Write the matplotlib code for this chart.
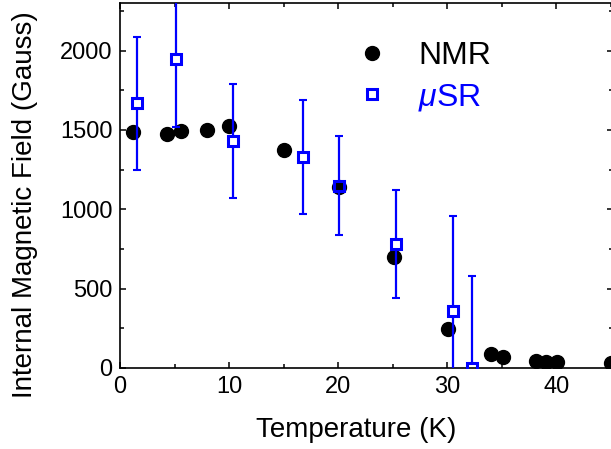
import numpy as np
import matplotlib
matplotlib.use("Agg")
import matplotlib.pyplot as plt
from matplotlib.ticker import MultipleLocator

plt.rcParams['font.family'] = ['Liberation Sans', 'DejaVu Sans']
plt.rcParams['mathtext.fontset'] = 'custom'
plt.rcParams['mathtext.rm'] = 'Liberation Sans'
plt.rcParams['mathtext.it'] = 'Liberation Sans:italic'

# NMR data (K, Gauss)
nmr_T = np.array([1.2, 4.3, 5.6, 8.0, 10.0, 15.0, 20.1, 25.1, 30.1, 34.0, 35.1, 38.1, 39.1, 40.1, 45.0])
nmr_B = np.array([1484, 1474, 1491, 1497, 1522, 1373, 1140, 702, 244, 88, 71, 46, 36, 36, 30])

# muSR data with error bars
musr_T = np.array([1.6, 5.1, 10.4, 16.8, 20.1, 25.3, 30.5, 32.3])
musr_B = np.array([1668, 1947, 1432, 1329, 1148, 782, 358, 0])
musr_err = np.array([418, 431, 358, 361, 311, 340, 601, 582])

blue = '#0000ff'
dpi = 100

fig = plt.figure(figsize=(6.11, 4.49), dpi=dpi)
ax = fig.add_axes([120 / 611, 81 / 449, 493 / 611, 365 / 449])
ax.set_xlim(0, 45.2)
ax.set_ylim(0, 2300)

# circles
ax.plot(nmr_T, nmr_B, 'o', color='black', ms=10, ls='none', zorder=2, label='NMR')

# error bars stop at the edge of the hollow square
sq_ms = 6.8
px_per_unit = (ax.transData.transform((0, 1000))[1] - ax.transData.transform((0, 0))[1]) / 1000
gap = (sq_ms / 2) / 72 * dpi / px_per_unit
ax.vlines(musr_T, musr_B + gap, musr_B + musr_err, color=blue, lw=1.6, zorder=3)
ax.vlines(musr_T, musr_B - musr_err, musr_B - gap, color=blue, lw=1.6, zorder=3)
ax.plot(musr_T, musr_B + musr_err, ls='none', marker='_', ms=6, mew=1.5, color=blue, zorder=3)
ax.plot(musr_T, musr_B - musr_err, ls='none', marker='_', ms=6, mew=1.5, color=blue, zorder=3)
ax.plot(musr_T, musr_B, ls='none', marker='s', ms=sq_ms, mew=2.2, mec=blue, mfc='none',
        zorder=4, label=r'$\mu$SR')

ax.xaxis.set_major_locator(MultipleLocator(10))
ax.xaxis.set_minor_locator(MultipleLocator(5))
ax.yaxis.set_major_locator(MultipleLocator(500))
ax.yaxis.set_minor_locator(MultipleLocator(250))
ax.tick_params(which='both', direction='in', top=True, right=True, width=1.1, labelsize=17, pad=5.5)
ax.tick_params(which='major', length=4.5)
ax.tick_params(which='minor', length=3)
for s in ax.spines.values():
    s.set_linewidth(1.2)

ax.set_xlabel('Temperature (K)', fontsize=20)
ax.set_ylabel('Internal Magnetic Field (Gauss)', fontsize=20)
ax.xaxis.set_label_coords(0.479, -0.134)
ax.yaxis.set_label_coords(-0.166, 0.447)

leg = ax.legend(loc='upper left', bbox_to_anchor=(0.479, 0.895), frameon=False, fontsize=23,
                handlelength=1.0, handletextpad=0.95, labelspacing=0.33, borderpad=0,
                borderaxespad=0, numpoints=1)
leg.get_texts()[1].set_color(blue)

fig.savefig('out.png', dpi=dpi)
